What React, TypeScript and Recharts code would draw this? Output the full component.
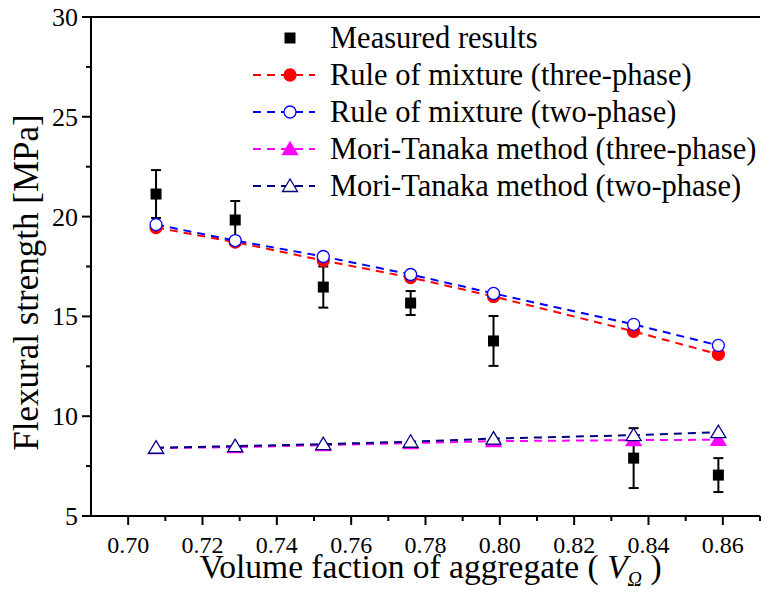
import React from 'react';
import { ComposedChart, Line, XAxis, YAxis, ReferenceLine, ErrorBar } from 'recharts';

// volume fraction of aggregate
const volumeFraction = [0.7075, 0.7288, 0.7525, 0.7760, 0.7983, 0.8360, 0.8588];
const measured = [21.13, 19.83, 16.47, 15.67, 13.77, 7.90, 7.05];
const measuredErr = [1.2, 0.95, 1.03, 0.6, 1.25, 1.5, 0.85];
const romThree = [19.45, 18.72, 17.8, 16.95, 16.0, 14.25, 13.1];
const romTwo = [19.6, 18.8, 18.0, 17.1, 16.15, 14.6, 13.55];
const mtThree = [8.4, 8.45, 8.55, 8.65, 8.75, 8.8, 8.82];
const mtTwo = [8.42, 8.5, 8.6, 8.72, 8.88, 9.05, 9.2];

const xTicks = [0.7, 0.71, 0.72, 0.73, 0.74, 0.75, 0.76, 0.77, 0.78, 0.79, 0.8, 0.81, 0.82, 0.83, 0.84, 0.85, 0.86, 0.87];
const yTicks = [5, 7.5, 10, 12.5, 15, 17.5, 20, 22.5, 25, 27.5, 30];

const data = volumeFraction.map((x, i) => ({
  x,
  measured: measured[i],
  err: measuredErr[i],
  romThree: romThree[i],
  romTwo: romTwo[i],
  mtThree: mtThree[i],
  mtTwo: mtTwo[i],
}));

const FONT = '"Liberation Serif", "Times New Roman", serif';

type Shape = 'square' | 'circle' | 'triangle';

const Marker = ({ cx, cy, shape, filled, color }: { cx: number; cy: number; shape: Shape; filled: boolean; color: string }) => {
  const fill = filled ? color : '#fff';
  if (shape === 'square') return <rect x={cx - 5.5} y={cy - 5.5} width={11} height={11} fill={color} />;
  if (shape === 'circle') return <circle cx={cx} cy={cy} r={6} fill={fill} stroke={color} strokeWidth={1.3} />;
  return (
    <polygon
      points={`${cx},${cy - 7} ${cx - 7.5},${cy + 5.5} ${cx + 7.5},${cy + 5.5}`}
      fill={fill}
      stroke={color}
      strokeWidth={1.3}
    />
  );
};

const series = [
  { key: 'romThree', name: 'Rule of mixture (three-phase)', color: '#ff0000', shape: 'circle' as Shape, filled: true },
  { key: 'romTwo', name: 'Rule of mixture (two-phase)', color: '#0000ff', shape: 'circle' as Shape, filled: false },
  { key: 'mtThree', name: 'Mori-Tanaka method (three-phase)', color: '#ff00ff', shape: 'triangle' as Shape, filled: true },
  { key: 'mtTwo', name: 'Mori-Tanaka method (two-phase)', color: '#000080', shape: 'triangle' as Shape, filled: false },
];

const legendItems = [
  { name: 'Measured results', color: '#000', shape: 'square' as Shape, filled: true, line: false },
  ...series.map((s) => ({ name: s.name, color: s.color, shape: s.shape, filled: s.filled, line: true })),
];

const XTick = (props: any) => {
  const { x, y, payload } = props;
  const v = payload.value;
  const major = Math.round(v * 100) % 2 === 0;
  return (
    <g>
      <line x1={x} x2={x} y1={y} y2={y + (major ? 9 : 5)} stroke="#000" strokeWidth={2} />
      {major && (
        <text x={x} y={y + 37} textAnchor="middle" fontSize={24} fontFamily={FONT} fill="#000">
          {v.toFixed(2)}
        </text>
      )}
    </g>
  );
};

const YTick = (props: any) => {
  const { x, y, payload } = props;
  const v = payload.value;
  const major = v % 5 === 0;
  return (
    <g>
      <line x1={x} x2={x - (major ? 9 : 5)} y1={y} y2={y} stroke="#000" strokeWidth={2} />
      {major && (
        <text x={x - 13} y={y + 9} textAnchor="end" fontSize={26} fontFamily={FONT} fill="#000">
          {v}
        </text>
      )}
    </g>
  );
};

const YTitle = (props: any) => {
  const { viewBox } = props;
  const cx = viewBox.x + 38;
  const cy = viewBox.y + viewBox.height / 2 + 16;
  return (
    <text x={cx} y={cy} transform={`rotate(-90 ${cx} ${cy})`} textAnchor="middle" fontSize={35} fontFamily={FONT} fill="#000">
      Flexural strength [MPa]
    </text>
  );
};

const XTitle = (props: any) => {
  const { viewBox } = props;
  const cx = viewBox.x + viewBox.width / 2 + 5;
  return (
    <text x={cx} y={viewBox.y + 62} textAnchor="middle" fontSize={33.5} fontFamily={FONT} fill="#000">
      Volume faction of aggregate (<tspan fontStyle="italic"> V</tspan>
      <tspan fontStyle="italic" fontSize={20} dy={8}>Ω</tspan>
      <tspan dy={-8}> )</tspan>
    </text>
  );
};

const LegendBox = () => (
  <svg width={510} height={190} style={{ display: 'block', overflow: 'visible' }}>
    {legendItems.map((item, i) => {
      const cy = 21 + i * 37;
      return (
        <g key={item.name}>
          {item.line && (
            <line x1={0} x2={62} y1={cy} y2={cy} stroke={item.color} strokeWidth={2} strokeDasharray="8 6" />
          )}
          <Marker cx={37} cy={cy} shape={item.shape} filled={item.filled} color={item.color} />
          <text x={77} y={cy + 10} fontSize={30.5} fontFamily={FONT} fill="#000">
            {item.name}
          </text>
        </g>
      );
    })}
  </svg>
);

const App = () => {
  return (
    <div style={{ position: 'absolute', left: 0, top: 0, width: 761, height: 594, background: '#fff' }}>
      <ComposedChart width={761} height={594} data={data} margin={{ top: 17, right: 1, bottom: 0, left: 0 }}>
        <XAxis
          dataKey="x"
          type="number"
          domain={[0.69, 0.87]}
          ticks={xTicks}
          interval={0}
          tick={<XTick />}
          tickLine={false}
          tickSize={0}
          tickMargin={0}
          height={78}
          stroke="#000"
          strokeWidth={2}
          allowDataOverflow
          label={<XTitle />}
        />
        <YAxis
          type="number"
          domain={[5, 30]}
          ticks={yTicks}
          interval={0}
          tick={<YTick />}
          tickLine={false}
          tickSize={0}
          tickMargin={0}
          width={91}
          stroke="#000"
          strokeWidth={2}
          allowDataOverflow
          label={<YTitle />}
        />
        <ReferenceLine y={30} stroke="#000" strokeWidth={2} />
        {series.map((s) => (
          <Line
            key={s.key}
            dataKey={s.key}
            name={s.name}
            stroke={s.color}
            strokeWidth={2}
            strokeDasharray="8 6"
            isAnimationActive={false}
            dot={(p: any) => (
              <Marker key={`${s.key}-${p.index}`} cx={p.cx} cy={p.cy} shape={s.shape} filled={s.filled} color={s.color} />
            )}
            activeDot={false}
          />
        ))}
        <Line
          dataKey="measured"
          name="Measured results"
          stroke="none"
          isAnimationActive={false}
          dot={(p: any) => <Marker key={`m-${p.index}`} cx={p.cx} cy={p.cy} shape="square" filled color="#000" />}
          activeDot={false}
        >
          <ErrorBar dataKey="err" width={5} stroke="#000" strokeWidth={2} direction="y" isAnimationActive={false} />
        </Line>
      </ComposedChart>
      <div style={{ position: 'absolute', left: 253, top: 17 }}>
        <LegendBox />
      </div>
    </div>
  );
};

export default App;
